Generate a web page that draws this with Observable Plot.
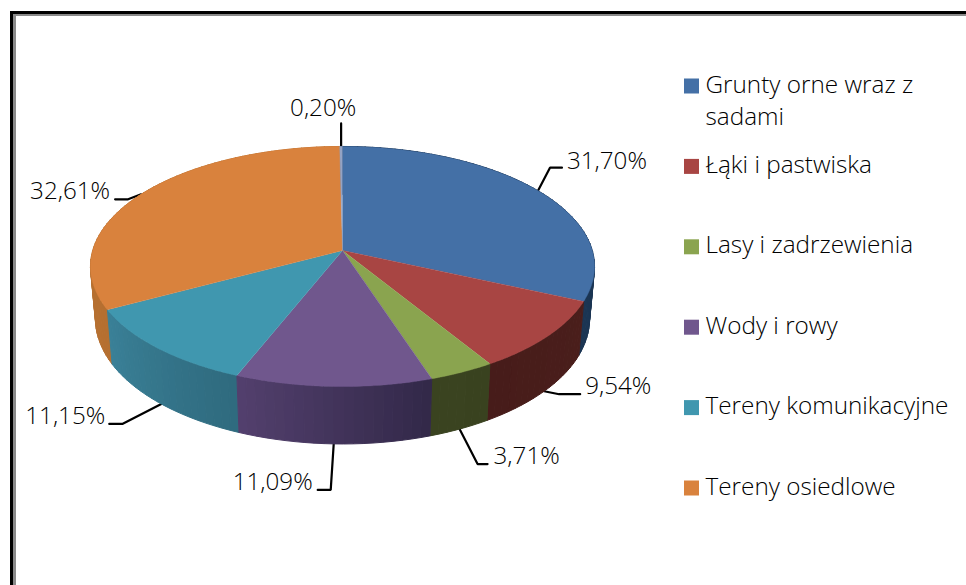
<!DOCTYPE html>
<html>
<head>
<meta charset="utf-8">
<script src="https://cdn.jsdelivr.net/npm/d3@7"></script>
<script src="https://cdn.jsdelivr.net/npm/@observablehq/plot@0.6"></script>
<style>
html,body{margin:0;padding:0;background:#fff;overflow:hidden}
svg{display:block}
</style>
</head>
<body>
<div id="chart"></div>
<script>
// Data
const sliceValues = [31.70, 9.54, 3.71, 11.09, 11.15, 32.61, 0.20];
const legendNames = [["Grunty orne wraz z", "sadami"], ["Łąki i pastwiska"], ["Lasy i zadrzewienia"], ["Wody i rowy"], ["Tereny komunikacyjne"], ["Tereny osiedlowe"]];
const topColors = ["#4470a6", "#a84543", "#8aa44f", "#70578d", "#4097af", "#d9823d", "#94a3c4"];
const sideFrom = ["#1b3553", "#471c1a", "#3a4320", "#53406e", "#3a8198", "#c47a38", "#5a6880"];
const sideTo = ["#1a3452", "#4a1e1b", "#39421f", "#322848", "#2f6a7e", "#b56f30", "#5a6880"];

// Layout of the perspective pie
const W = 966, H = 585, font = "'Open Sans', sans-serif", textColor = "#000";
const cx = 342, cy = 250, a = 249.8, b = 117.9, p = 0.1333;
const botX = 0.98, botY = 1.04, botCy = 302;
const project = (t, bottom) => {
  const yv = -Math.cos(t), d = 1 - p * yv;
  const dx = a * Math.sin(t) / d, dy = b * yv / d;
  return bottom ? [cx + botX * dx, botCy + botY * dy] : [cx + dx, cy + dy];
};
const arcs = d3.pie().sort(null).value(d => d)(sliceValues);
const STEP = Math.PI / 180;
const steps = (s, e, unit = STEP) => {
  const n = Math.max(1, Math.ceil((e - s) / unit));
  return d3.range(n + 1).map(i => s + (e - s) * i / n);
};

// Top faces
const topPts = arcs.flatMap((d, i) => [
  {id: i, x: cx, y: cy, color: topColors[i]},
  ...steps(d.startAngle, d.endAngle).map(t => {
    const [x, y] = project(t, false);
    return {id: i, x, y, color: topColors[i]};
  })
]);

// Side strips, shaded along each slice
const strips = [];
arcs.forEach((d, i) => {
  const ts = steps(d.startAngle, d.endAngle, 2 * STEP);
  const shade = d3.interpolateRgb(sideFrom[i], sideTo[i]);
  for (let k = 0; k < ts.length - 1; k++) {
    strips.push({t0: ts[k], t1: ts[k + 1], color: shade(1 - (k + .5) / (ts.length - 1)), depth: -Math.cos((ts[k] + ts[k + 1]) / 2), slice: i});
  }
});
strips.sort((m, n) => m.depth - n.depth);
const stripPts = strips.flatMap((s, id) => [[s.t0, 0], [s.t1, 0], [s.t1, 1], [s.t0, 1], [s.t0, 0]].map(([t, bot]) => {
  const [x, y] = project(t, !!bot);
  return {id, x, y, color: s.color};
}));

// Leader lines start on the rim at each slice's mid angle
const leaderLayout = [
  {bottom: false, elbow: [12, -23], end: [24, -23], label: [29, -22]},
  {bottom: true,  elbow: [15, 3],   end: [36, 3],   label: [41, 3]},
  {bottom: true,  elbow: [18, 35],  end: [28, 35],  label: [34, 35]},
  {bottom: true,  elbow: [-3, 46],  end: [-16, 46], label: [-101, 46]},
  {bottom: true,  elbow: [-39, 20], end: [-52, 20], label: [-136, 20]},
  {bottom: false, elbow: [-13, 5],  end: [-26, 5],  label: [-111, 5]},
  {bottom: false, elbow: [0, -23],  end: [0, -23],  label: [-51, -30]}
];
const leaderPts = [], labels = [];
arcs.forEach((d, i) => {
  const L = leaderLayout[i];
  const [x, y] = project((d.startAngle + d.endAngle) / 2, L.bottom);
  [[0, 0], L.elbow, L.end].forEach(([dx, dy]) => leaderPts.push({id: i, x: x + dx, y: y + dy}));
  labels.push({x: x + L.label[0], y: y + L.label[1], text: sliceValues[i].toFixed(2).replace(".", ",") + "%"});
});

// Legend
const rowStep = 80.4, rowTop = 86;
const swatches = legendNames.map((_, i) => ({x1: 684, x2: 699, y1: rowTop + i * rowStep - 7.5, y2: rowTop + i * rowStep + 7.5, color: topColors[i]}));
const legendLines = legendNames.flatMap((lines, i) => lines.map((text, k) => ({text, x: 705, y: rowTop + i * rowStep + 6 + k * 32})));

// Window frame
const frame = [
  {x1: 10, x2: W, y1: 11, y2: 14, color: "#000"},
  {x1: 10, x2: 13, y1: 11, y2: H, color: "#000"},
  {x1: 13, x2: W, y1: 14, y2: 16, color: "#8a8a8a"},
  {x1: 13, x2: 16, y1: 14, y2: H, color: "#8a8a8a"}
];

const chart = Plot.plot({
  width: W, height: H, margin: 0,
  x: {domain: [0, W], range: [0, W], axis: null},
  y: {domain: [0, H], range: [0, H], axis: null},
  color: {type: "identity"},
  style: {background: "#fff", fontFamily: font},
  marks: [
    Plot.rect(frame, {x1: "x1", x2: "x2", y1: "y1", y2: "y2", fill: "color"}),
    Plot.line(leaderPts, {x: "x", y: "y", z: "id", stroke: "#000", strokeWidth: 2.2, curve: "linear", strokeLinejoin: "miter"}),
    Plot.line(stripPts, {x: "x", y: "y", z: "id", fill: "color", stroke: "color", strokeWidth: 1, curve: "linear"}),
    Plot.line(topPts, {x: "x", y: "y", z: "id", fill: "color", stroke: "color", strokeWidth: 0.4, curve: "linear"}),
    Plot.text(labels, {x: "x", y: "y", text: "text", textAnchor: "start", lineAnchor: "bottom", fontSize: 24.2, fontWeight: 300, fill: textColor}),
    Plot.rect(swatches, {x1: "x1", x2: "x2", y1: "y1", y2: "y2", fill: "color"}),
    Plot.text(legendLines, {x: "x", y: "y", text: "text", textAnchor: "start", lineAnchor: "bottom", fontSize: 24.3, fontWeight: 300, fill: textColor})
  ]
});
document.getElementById("chart").append(chart);
</script>
</body>
</html>
